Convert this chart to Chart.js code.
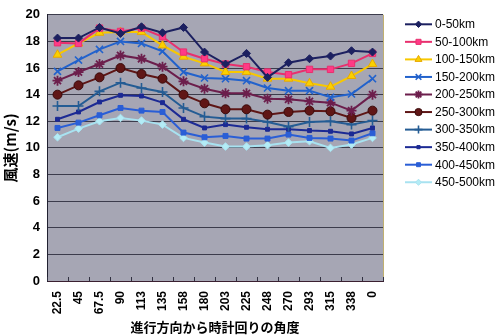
<!DOCTYPE html>
<html><head><meta charset="utf-8">
<script src="https://cdn.jsdelivr.net/npm/chart.js@4/dist/chart.umd.min.js"></script>
<style>html,body{margin:0;padding:0;background:#fff;}#wrap{width:500px;height:336px;}</style>
</head><body><div id="wrap"><canvas id="c" width="500" height="336"></canvas></div>
<script>
const categories = ['22.5','45','67.5','90','113','135','158','180','203','225','248','270','293','315','338','0'];
const seriesNames = ['0-50km','50-100km','100-150km','150-200km','200-250km','250-300km','300-350km','350-400km','400-450km','450-500km'];
const s0_50    = [18.25, 18.25, 19.05, 18.6, 19.1, 18.65, 19.05, 17.2, 16.3, 17.1, 15.3, 16.4, 16.7, 16.9, 17.3, 17.2];
const s50_100  = [17.9, 17.85, 19.0, 18.75, 19.0, 18.35, 17.2, 16.7, 16.3, 16.1, 15.7, 15.5, 15.9, 15.9, 16.35, 17.1];
const s100_150 = [17.0, 17.85, 18.65, 18.7, 18.7, 17.7, 16.85, 16.35, 15.7, 15.7, 15.2, 15.2, 14.85, 14.6, 15.4, 16.3];
const s150_200 = [15.75, 16.6, 17.4, 18.0, 17.85, 17.25, 15.7, 15.25, 15.2, 15.05, 14.5, 14.3, 14.3, 13.8, 14.05, 15.2];
const s200_250 = [15.05, 15.7, 16.3, 16.95, 16.7, 16.1, 15.0, 14.45, 14.1, 14.1, 13.7, 13.65, 13.5, 13.4, 12.8, 14.0];
const s250_300 = [14.0, 14.7, 15.3, 16.0, 15.55, 15.2, 14.0, 13.35, 12.9, 12.9, 12.5, 12.7, 12.8, 12.75, 12.25, 12.8];
const s300_350 = [13.15, 13.15, 14.25, 14.9, 14.5, 14.2, 13.0, 12.35, 12.2, 12.2, 11.95, 11.6, 11.95, 12.0, 11.75, 12.05];
const s350_400 = [12.15, 12.7, 13.45, 13.95, 13.9, 13.4, 12.15, 11.5, 11.75, 11.55, 11.4, 11.4, 11.3, 11.25, 11.05, 11.5];
const s400_450 = [11.5, 11.9, 12.45, 13.0, 12.8, 12.7, 11.15, 10.8, 10.9, 10.7, 10.7, 11.0, 10.75, 10.7, 10.55, 11.1];
const s450_500 = [10.8, 11.45, 12.0, 12.25, 12.05, 11.75, 10.75, 10.4, 10.1, 10.1, 10.2, 10.4, 10.5, 10.0, 10.25, 10.75];
const yTicks = [0, 2, 4, 6, 8, 10, 12, 14, 16, 18, 20];
const yTitle = '風速(m/s)';
const xTitle = '進行方向から時計回りの角度';

const allSeries = [s0_50, s50_100, s100_150, s150_200, s200_250, s250_300, s300_350, s350_400, s400_450, s450_500];
const styles = [
  {line:'#1c2060', fill:'#1c2060', stroke:'#1c2060', ps:'rectRot', r:4, bw:1},
  {line:'#e8306e', fill:'#ff3a86', stroke:'#e8306e', ps:'rect', r:4.5, bw:1},
  {line:'#f8c800', fill:'#fad000', stroke:'#e8a800', ps:'triangle', r:5, bw:1},
  {line:'#2262cc', fill:'#2262cc', stroke:'#2262cc', ps:'crossRot', r:5, bw:1.6},
  {line:'#6c1e4c', fill:'#6c1e4c', stroke:'#6c1e4c', ps:'star', r:5, bw:1.8},
  {line:'#5e1616', fill:'#601616', stroke:'#3a0a0a', ps:'circle', r:4.5, bw:1},
  {line:'#245c94', fill:'#245c94', stroke:'#245c94', ps:'cross', r:5, bw:1.6},
  {line:'#1c2a94', fill:'#1c2a94', stroke:'#1c2a94', ps:'rect', r:2.8, bw:1},
  {line:'#2a5ed6', fill:'#2a5ed6', stroke:'#2a5ed6', ps:'rect', r:3.5, bw:1},
  {line:'#a8e2f0', fill:'#b4ecf6', stroke:'#a8e2f0', ps:'rectRot', r:3.8, bw:1}
];

const datasets = allSeries.map((d, i) => ({
  label: seriesNames[i],
  data: d,
  borderColor: styles[i].line,
  backgroundColor: styles[i].fill,
  pointBackgroundColor: styles[i].fill,
  pointBorderColor: styles[i].stroke,
  pointBorderWidth: styles[i].bw,
  pointStyle: styles[i].ps,
  pointRadius: styles[i].r,
  borderWidth: 2,
  tension: 0,
  order: i
}));

const plotBg = {
  id: 'plotBg',
  beforeDraw(chart) {
    const {ctx, chartArea: a} = chart;
    ctx.save();
    ctx.fillStyle = '#a6a6b4';
    ctx.fillRect(a.left, a.top, a.right - a.left, a.bottom - a.top);
    ctx.strokeStyle = '#c0b070';
    ctx.lineWidth = 1;
    ctx.beginPath();
    ctx.moveTo(a.right + 0.5, a.top);
    ctx.lineTo(a.right + 0.5, a.bottom);
    ctx.stroke();
    ctx.restore();
  },
  afterDatasetsDraw(chart) {
    const {ctx, chartArea: a, scales} = chart;
    const xs = scales.x;
    ctx.save();
    ctx.strokeStyle = '#303040';
    ctx.lineWidth = 1;
    ctx.beginPath();
    for (let i = 0; i <= categories.length; i++) {
      const p = i < categories.length ? xs.getPixelForValue(i) - (xs.getPixelForValue(1) - xs.getPixelForValue(0)) / 2 : a.right;
      const px = Math.round(p) + 0.5;
      ctx.moveTo(px, a.bottom);
      ctx.lineTo(px, a.bottom - 4);
    }
    ctx.stroke();
    ctx.restore();
  }
};

const customLegend = {
  id: 'customLegend',
  afterDraw(chart) {
    const ctx = chart.ctx;
    const H = Chart.helpers;
    ctx.save();
    chart.data.datasets.forEach((ds, i) => {
      const y = 24.3 + i * 17.55;
      ctx.strokeStyle = ds.borderColor;
      ctx.lineWidth = 2;
      ctx.beginPath();
      ctx.moveTo(405, y);
      ctx.lineTo(432, y);
      ctx.stroke();
      ctx.fillStyle = ds.pointBackgroundColor;
      ctx.strokeStyle = ds.pointBorderColor;
      ctx.lineWidth = ds.pointBorderWidth;
      if (H && H.drawPoint) {
        H.drawPoint(ctx, {pointStyle: ds.pointStyle, radius: ds.pointRadius * 0.8, rotation: 0, borderWidth: ds.pointBorderWidth}, 418.5, y);
      }
      ctx.fillStyle = '#000';
      ctx.font = '12px "Liberation Sans", Arial, sans-serif';
      ctx.textAlign = 'left';
      ctx.textBaseline = 'middle';
      ctx.fillText(ds.label, 435, y + 0.5);
    });
    ctx.restore();
  }
};

new Chart(document.getElementById('c'), {
  type: 'line',
  data: {labels: categories, datasets},
  options: {
    responsive: false,
    devicePixelRatio: 1,
    animation: false,
    layout: {padding: {top: 12, right: 117, bottom: 0, left: 0}},
    plugins: {legend: {display: false}, tooltip: {enabled: false}},
    scales: {
      x: {
        offset: true,
        afterFit(s) { s.height = 55; },
        grid: {display: true, drawOnChartArea: false, drawTicks: false},
        border: {display: true, color: '#3a2030', width: 1},
        ticks: {
          autoSkip: false, minRotation: 90, maxRotation: 90, padding: 10,
          color: '#000', font: {family: '"Liberation Sans", Arial, sans-serif', size: 12, weight: 'bold'}
        },
        title: {
          display: true, text: xTitle, color: '#000',
          font: {family: '"Noto Sans CJK JP", sans-serif', size: 13, weight: 'bold'},
          padding: {top: 0, bottom: 1}
        }
      },
      y: {
        min: 0, max: 20,
        afterFit(s) { s.width = 47; },
        afterBuildTicks(s) { s.ticks = yTicks.map(v => ({value: v})); },
        grid: {color: '#3c3c4c', lineWidth: 1, drawTicks: false},
        border: {display: true, color: '#202030', width: 1},
        ticks: {
          padding: 7, color: '#000',
          font: {family: '"Liberation Sans", Arial, sans-serif', size: 13, weight: 'bold'}
        },
        title: {
          display: true, text: yTitle, color: '#000',
          font: {family: '"Noto Sans CJK JP", sans-serif', size: 15, weight: 'bold'},
          padding: {top: 1, bottom: 0}
        }
      }
    }
  },
  plugins: [plotBg, customLegend]
});
</script>
</body></html>
